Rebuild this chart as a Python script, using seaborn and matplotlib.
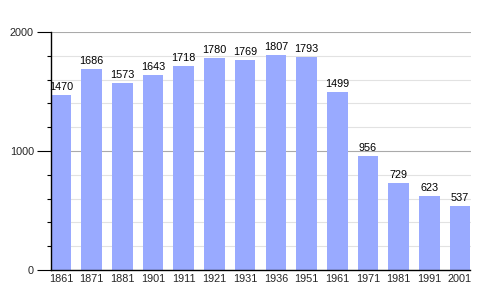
import matplotlib
matplotlib.use("Agg")
import matplotlib.pyplot as plt
import seaborn as sns
import pandas as pd
from matplotlib.ticker import MultipleLocator

years = ["1861", "1871", "1881", "1901", "1911", "1921", "1931", "1936", "1951", "1961", "1971", "1981", "1991", "2001"]
population = [1470, 1686, 1573, 1643, 1718, 1780, 1769, 1807, 1793, 1499, 956, 729, 623, 537]

df = pd.DataFrame({"year": years, "pop": population})

sns.set_style("white")
plt.rcParams['font.family'] = ['Liberation Sans', 'DejaVu Sans']

fig = plt.figure(figsize=(5, 3), dpi=100)
ax = fig.add_axes([0.101, 0.1, 0.84, 0.793])

sns.barplot(data=df, x="year", y="pop", color="#99aaff", saturation=1, width=0.67,
            edgecolor="none", linewidth=0, ax=ax, zorder=3)

ax.set_ylim(0, 2000)
ax.set_xlim(-0.34, len(years) - 1 + 0.34)
ax.yaxis.set_major_locator(MultipleLocator(1000))
ax.yaxis.set_minor_locator(MultipleLocator(200))
ax.grid(which="major", axis="y", color="#aaaaaa", linewidth=0.8, zorder=0)
ax.grid(which="minor", axis="y", color="#e2e2e2", linewidth=0.8, zorder=0)
ax.set_axisbelow(True)

for s in ["top", "right"]:
    ax.spines[s].set_visible(False)
for s in ["left", "bottom"]:
    ax.spines[s].set_color("black")
    ax.spines[s].set_linewidth(1.0)
    ax.spines[s].set_zorder(4)

ax.tick_params(axis="y", which="major", length=10, width=0.8, color="black", labelsize=7.8, pad=2, left=True)
ax.tick_params(axis="y", which="minor", length=3, width=0.8, color="black", left=True)
ax.tick_params(axis="x", length=0, labelsize=7.8, pad=3)
ax.set_xlabel("")
ax.set_ylabel("")

for i, v in enumerate(population):
    ax.text(i, v + 25, str(v), ha="center", va="bottom", fontsize=7.8, color="black", zorder=5)

fig.savefig("out.png", dpi=100)
